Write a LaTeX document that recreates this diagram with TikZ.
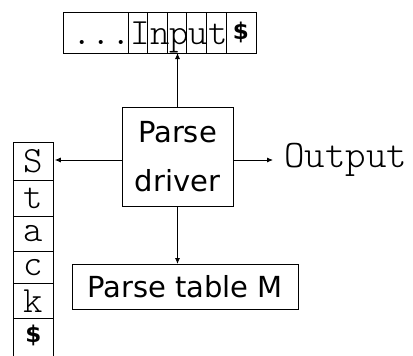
\documentclass[tikz,border=0pt]{standalone}
\usepackage{fontspec}
\newfontfamily\handfont{DejaVu Sans}
\newfontfamily\thinmono{Latin Modern Mono Light}
\usetikzlibrary{arrows.meta}

\begin{document}
\begin{tikzpicture}[x=1pt, y=-1pt, line width=0.8pt,
  box/.style={draw, inner sep=0pt, outer sep=0pt},
  tape/.style={box, minimum height=41pt},
  stackcell/.style={box, minimum width=40pt, font=\thinmono\fontsize{37}{37}\selectfont},
  mono/.style={inner sep=0pt, font=\thinmono\fontsize{37}{37}\selectfont},
  dollar/.style={inner sep=0pt, font=\handfont\bfseries\fontsize{23}{23}\selectfont},
  hand/.style={box, align=center, font=\handfont\fontsize{29}{49}\selectfont},
  link/.style={-{Latex[length=6pt,width=5pt]}},
]
\useasboundingbox (0,0) rectangle (413,356);

% input tape
\node[tape, minimum width=65pt] (dots) at (95.5,32.5) {};
\foreach \i/\x in {1/137.8,2/157.4,3/177,4/196.6,5/216.2}
  \node[tape, minimum width=19.6pt] (in\i) at (\x,32.5) {};
\node[tape, minimum width=30pt] (inend) at (241,32.5) {};
\node[mono, anchor=base west] (intext) at (72,45) {...Input};
\node[dollar] (indollar) at (inend) {\$};

% parse driver and table
\node[hand, minimum width=111pt, minimum height=99pt] (driver) at (177.5,156.5) {Parse\\driver};
\node[hand, minimum width=226pt, minimum height=45pt] (table) at (185,286.5) {Parse table M};

% stack
\foreach \n/\t/\b/\c in {s1/142/180.5/S, s2/180.5/216.3/t, s3/216.3/251.7/a, s4/251.7/283.3/c, s5/283.3/318.3/k}
  \node[stackcell, minimum height=\b pt-\t pt] (\n) at (33.3,{(\t+\b)/2}) {\c};
\node[stackcell, minimum height=48pt] (s6) at (33.3,342.3) {};
\node[dollar] (stackdollar) at (33.3,335.5) {\$};

% output label
\node[mono, anchor=west, font=\thinmono\fontsize{39}{39}\selectfont] (out) at (284,160) {Output};

% connectors
\coordinate (drvL) at (driver.west |- 0,160);
\coordinate (drvR) at (driver.east |- 0,160);
\draw[link] (driver.north) -- (driver.north |- dots.south);
\draw[link] (drvL) -- ([xshift=1.5pt]s1.east |- drvL);
\draw[link] (drvR) -- ++(40,0);
\draw[link] (driver.south) -- (driver.south |- table.north);
\end{tikzpicture}
\end{document}
